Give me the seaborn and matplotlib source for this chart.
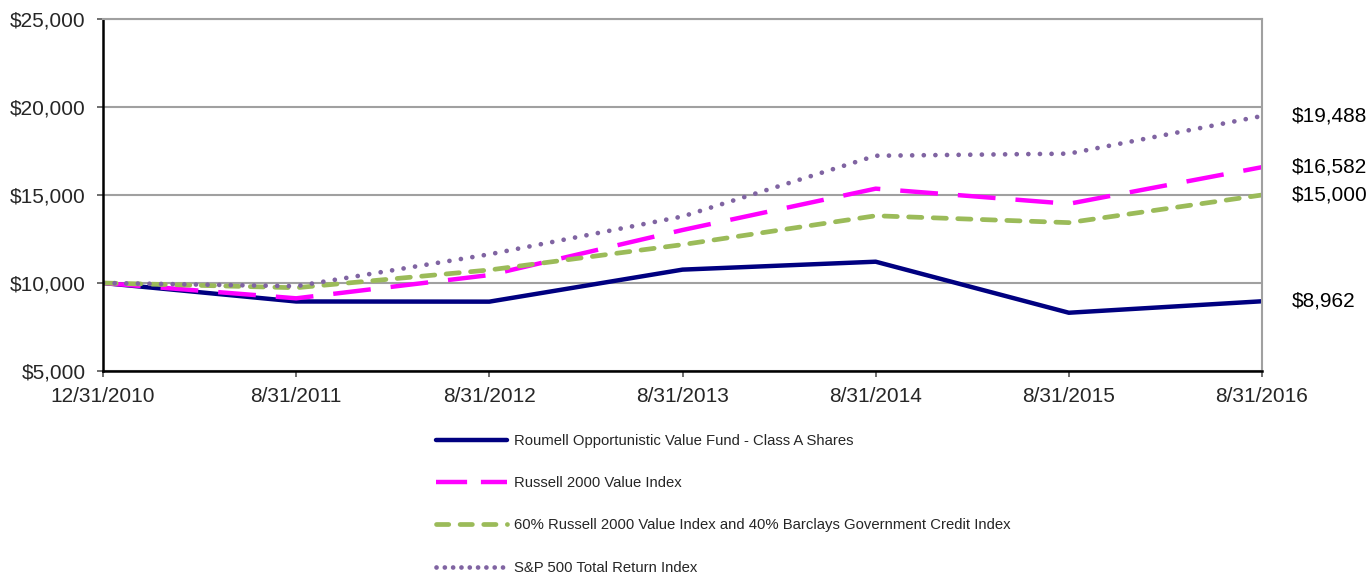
import numpy as np
import pandas as pd
import matplotlib
matplotlib.use('Agg')
import matplotlib.pyplot as plt
import seaborn as sns

# Growth of a hypothetical $10,000 investment
dates = ['12/31/2010', '8/31/2011', '8/31/2012', '8/31/2013', '8/31/2014', '8/31/2015', '8/31/2016']
fund = [10000, 8950, 8940, 10760, 11210, 8310, 8962]
russell_value = [10000, 9130, 10450, 13010, 15360, 14500, 16582]
blend = [10000, 9730, 10740, 12180, 13820, 13430, 15000]
sp500 = [10000, 9820, 11630, 13780, 17230, 17350, 19488]

names = ['Roumell Opportunistic Value Fund - Class A Shares',
         'Russell 2000 Value Index',
         '60% Russell 2000 Value Index and 40% Barclays Government Credit Index',
         'S&P 500 Total Return Index']
end_labels = ['$8,962', '$16,582', '$15,000', '$19,488']

sns.set_style('white')
plt.rcParams['font.family'] = ['Liberation Sans', 'DejaVu Sans']

fig = plt.figure(figsize=(13.68, 5.79), dpi=100)
ax = fig.add_axes([103 / 1368, 1 - 371 / 579, (1262 - 103) / 1368, (371 - 19) / 579])

x = np.arange(len(dates))
series = [fund, russell_value, blend, sp500]
styles = [
    dict(color='#000080', lw=3.2, linestyle='-'),
    dict(color='#FF00FF', lw=3.2, linestyle=(0, (8.5, 4.5)), dash_capstyle='butt'),
    dict(color='#9BBB59', lw=3.4, linestyle=(0, (2.8, 2.4)), dash_capstyle='round'),
    dict(color='#8064A2', lw=3.4, linestyle=(0, (0.01, 2.45)), dash_capstyle='round'),
]

for vals, name, st in zip(series, names, styles):
    sns.lineplot(x=x, y=vals, ax=ax, label=name, **st)

# value labels at the right end
for vals, lab in zip(series, end_labels):
    ax.text(1.026, vals[-1], lab, transform=ax.get_yaxis_transform(),
            ha='left', va='center', fontsize=15, color='black')

ax.set_xlim(0, len(dates) - 1)
ax.set_ylim(5000, 25000)
ax.set_yticks([5000, 10000, 15000, 20000, 25000])
ax.set_yticklabels(['$5,000', '$10,000', '$15,000', '$20,000', '$25,000'])
ax.set_xticks(x)
ax.set_xticklabels(dates)
ax.tick_params(axis='both', labelsize=15, length=4.5, width=1.2, color='#555555',
               direction='out', left=True, bottom=True)
ax.tick_params(axis='y', pad=8)
ax.tick_params(axis='x', pad=7)

ax.yaxis.grid(True, color='#A0A0A0', lw=1.5)
ax.set_axisbelow(True)
ax.spines['left'].set_color('black')
ax.spines['left'].set_linewidth(1.8)
ax.spines['bottom'].set_color('black')
ax.spines['bottom'].set_linewidth(1.8)
ax.spines['right'].set_color('#A0A0A0')
ax.spines['right'].set_linewidth(1.5)
ax.spines['top'].set_color('#A0A0A0')
ax.spines['top'].set_linewidth(1.5)
for s in ax.spines.values():
    s.set_visible(True)

handles, labels = ax.get_legend_handles_labels()
ax.get_legend().remove()
leg = fig.legend(handles, labels, loc='upper left', bbox_to_anchor=(436 / 1368, 1 - 434 / 579),
                 frameon=False, fontsize=10.7, handlelength=4.8, handletextpad=0.45,
                 labelspacing=1.9, borderpad=0, borderaxespad=0)
leg_lines = leg.get_lines()
leg_lines[1].set_linestyle((0, (7, 3.1)))
leg_lines[2].set_linestyle((0, (2.6, 2.4)))
leg_lines[3].set_linestyle((0, (0.01, 1.75)))

fig.savefig('out.png', dpi=100)
